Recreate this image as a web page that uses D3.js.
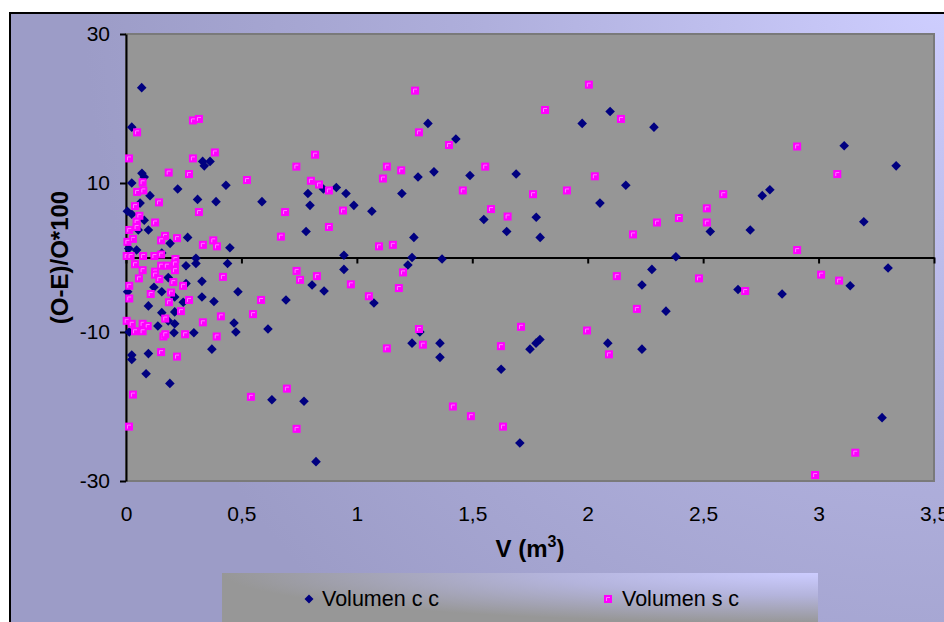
<!DOCTYPE html>
<html>
<head>
<meta charset="utf-8">
<script src="https://cdn.jsdelivr.net/npm/d3@7"></script>
<style>
  body { margin: 0; background: #ffffff; }
  svg { display: block; }
  text { font-family: Arial, "Liberation Sans", sans-serif; fill: #000; }
</style>
</head>
<body>
<svg id="chart" width="944" height="622"></svg>
<script>
// Series: relative error (O-E)/O*100 against stem volume V (m3)
const seriesNames = ["Volumen c c", "Volumen s c"];

const volumenCC = [
  [0.068, 22.8], [0.025, 17.5], [0.332, 12.9], [0.339, 12.3], [0.364, 12.9],
  [0.069, 11.3], [0.079, 10.8], [0.025, 10.0], [0.104, 8.3], [0.224, 9.2],
  [0.433, 9.7], [0.31, 7.8], [0.39, 7.5], [0.589, 7.5], [0.061, 7.3],
  [0.006, 6.2], [0.025, 5.8], [0.079, 5.0], [0.053, 3.7], [0.097, 3.7],
  [0.267, 2.7], [0.191, 1.9], [0.45, 1.3], [0.046, 1.0], [0.012, 1.2],
  [0.155, 0.6], [0.303, -0.1], [0.303, -0.8], [0.26, -1.1], [0.44, -0.8],
  [0.183, -2.7], [0.121, -4.0], [0.155, -4.6], [0.26, -3.5], [0.329, -3.2],
  [0.485, -4.6], [0.007, -4.6], [0.211, -5.3], [0.329, -5.3], [0.381, -5.9],
  [0.693, -5.7], [0.097, -6.5], [0.248, -6.0], [0.155, -7.4], [0.211, -7.3],
  [0.183, -8.5], [0.211, -8.9], [0.138, -9.2], [0.468, -8.8], [0.476, -10.0],
  [0.208, -10.1], [0.294, -10.1], [0.014, -10.0], [0.615, -9.6], [0.372, -12.3],
  [0.025, -13.1], [0.025, -13.7], [0.097, -12.9], [0.087, -15.6], [0.19, -16.9],
  [0.632, -19.1], [1.308, 18.0], [1.429, 15.9], [1.334, 11.5], [1.265, 10.8],
  [1.49, 11.0], [0.911, 9.4], [0.855, 9.2], [0.788, 8.6], [0.953, 8.6],
  [1.195, 8.6], [0.797, 7.0], [0.987, 7.0], [1.065, 6.2], [1.55, 5.1],
  [1.649, 3.5], [0.78, 3.5], [1.247, 2.7], [0.944, 0.3], [1.239, 0.0],
  [1.369, -0.2], [1.221, -1.0], [0.944, -1.6], [0.806, -3.7], [0.858, -4.5],
  [1.074, -6.1], [1.273, -10.0], [1.239, -11.5], [1.36, -11.5], [1.36, -13.4],
  [1.625, -15.0], [0.771, -19.3], [0.823, -27.4], [2.097, 19.6], [1.976, 18.0],
  [2.287, 17.5], [1.69, 11.2], [2.165, 9.7], [2.053, 7.3], [1.777, 5.4],
  [1.794, 2.7], [2.531, 3.5], [2.382, 0.1], [2.278, -1.6], [2.235, -3.7],
  [2.339, -7.2], [2.087, -11.5], [2.235, -12.3], [1.75, -12.3], [1.776, -11.5],
  [1.793, -11.0], [1.706, -24.9], [3.111, 15.0], [3.336, 12.3], [2.789, 9.1],
  [2.756, 8.3], [3.196, 4.8], [2.704, 3.7], [3.301, -1.4], [3.137, -3.8],
  [2.651, -4.3], [2.842, -4.9], [3.275, -21.5]
];

const volumenSC = [
  [0.29, 18.4], [0.316, 18.6], [0.048, 16.8], [0.013, 13.3], [0.29, 13.3],
  [0.385, 14.1], [0.738, 12.2], [0.185, 11.4], [0.273, 11.2], [0.072, 10.1],
  [0.524, 10.4], [0.048, 8.8], [0.075, 9.0], [0.143, 7.4], [0.039, 6.9],
  [0.316, 6.1], [0.689, 6.1], [0.058, 5.6], [0.046, 4.8], [0.046, 4.1],
  [0.126, 4.7], [0.014, 3.7], [0.671, 2.8], [0.169, 2.9], [0.152, 2.3],
  [0.221, 2.6], [0.03, 2.5], [0.006, 2.1], [0.378, 2.3], [0.394, 1.5],
  [0.333, 1.7], [0.003, 0.2], [0.02, 0.2], [0.074, 0.2], [0.123, 0.2],
  [0.152, 0.4], [0.214, -0.2], [0.039, -0.9], [0.152, -1.1], [0.177, -1.1],
  [0.212, -0.8], [0.072, -1.7], [0.126, -1.9], [0.126, -2.3], [0.212, -1.7],
  [0.056, -2.8], [0.144, -2.9], [0.014, -3.8], [0.205, -3.3], [0.247, -3.8],
  [0.42, -2.6], [0.739, -1.8], [0.754, -3.0], [0.107, -4.9], [0.195, -4.7],
  [0.014, -5.5], [0.186, -6.0], [0.273, -5.7], [0.585, -5.7], [0.238, -7.2],
  [0.17, -8.2], [0.55, -7.6], [0.411, -7.9], [0.333, -8.7], [0.003, -8.5],
  [0.025, -8.9], [0.072, -8.9], [0.094, -9.2], [0.039, -9.9], [0.072, -9.9],
  [0.162, -10.6], [0.17, -10.3], [0.256, -10.3], [0.393, -10.6], [0.152, -12.7],
  [0.221, -13.3], [0.03, -18.4], [0.541, -18.7], [0.697, -17.6], [0.013, -22.7],
  [0.739, -23.0], [1.252, 22.4], [1.269, 16.8], [1.399, 15.1], [0.819, 13.8],
  [1.13, 12.2], [1.556, 12.2], [1.192, 11.7], [1.113, 10.6], [0.801, 10.3],
  [0.836, 9.8], [0.879, 9.0], [1.459, 9.0], [0.94, 6.3], [1.581, 6.5],
  [1.653, 5.5], [0.879, 4.1], [1.096, 1.5], [1.156, 1.7], [0.827, -2.5],
  [0.974, -3.6], [1.2, -2.0], [1.182, -4.1], [1.052, -5.2], [1.269, -9.6],
  [1.286, -11.7], [1.13, -12.2], [1.624, -11.9], [1.416, -20.0], [1.494, -21.3],
  [1.633, -22.7], [2.005, 23.2], [1.815, 19.8], [2.144, 18.6], [2.031, 10.9],
  [1.763, 8.5], [1.91, 9.0], [2.516, 6.6], [2.516, 4.7], [2.395, 5.3],
  [2.3, 4.7], [2.196, 3.1], [2.587, 8.5], [2.126, -2.5], [2.482, -2.8],
  [2.213, -6.9], [1.711, -9.3], [1.997, -9.8], [2.092, -13.0], [2.907, 14.9],
  [3.081, 11.2], [2.907, 1.0], [3.011, -2.3], [3.089, -3.1], [2.682, -4.5],
  [3.159, -26.2], [2.985, -29.2]
];

const xTicks = [0, 0.5, 1, 1.5, 2, 2.5, 3, 3.5];
const yTicks = [-30, -10, 10, 30];
const xTitle = "V (m";
const xTitleSup = "3";
const yTitle = "(O-E)/O*100";

const colors = { cc: "#000080", sc: "#ff00ff" };

const svg = d3.select("#chart");
const W = 944, H = 622;
const plot = { left: 126, right: 934, top: 34, bottom: 481 };

const x = d3.scaleLinear().domain([0, 3.5]).range([plot.left, plot.right]);
const y = d3.scaleLinear().domain([-30, 30]).range([plot.bottom, plot.top]);

const defs = svg.append("defs");
const bg = defs.append("radialGradient").attr("id", "bgGrad")
  .attr("gradientUnits", "userSpaceOnUse")
  .attr("cx", 944).attr("cy", 0).attr("r", 860);
bg.append("stop").attr("offset", 0).attr("stop-color", "#ceceff");
bg.append("stop").attr("offset", 0.55).attr("stop-color", "#aeaedb");
bg.append("stop").attr("offset", 1).attr("stop-color", "#9c9cc7");

const lg = defs.append("radialGradient").attr("id", "legGrad")
  .attr("cx", 1).attr("cy", 0).attr("r", 1);
lg.append("stop").attr("offset", 0).attr("stop-color", "#ccccff");
lg.append("stop").attr("offset", 0.45).attr("stop-color", "#b4b4dc");
lg.append("stop").attr("offset", 1).attr("stop-color", "#979797");

// chart area background with its frame
svg.append("rect").attr("x", 0).attr("y", 0).attr("width", W).attr("height", H).attr("fill", "#ffffff");
svg.append("rect").attr("x", 10).attr("y", 13).attr("width", W + 10).attr("height", H + 10)
  .attr("fill", "url(#bgGrad)").attr("stroke", "#000").attr("stroke-width", 2);

// plot area
svg.append("rect")
  .attr("x", plot.left).attr("y", plot.top)
  .attr("width", plot.right - plot.left).attr("height", plot.bottom - plot.top)
  .attr("fill", "#969696").attr("stroke", "#7a7a7a").attr("stroke-width", 2);

// y axis
const yAxis = svg.append("g")
  .attr("transform", `translate(${plot.left},0)`)
  .call(d3.axisLeft(y).tickValues(yTicks).tickSize(6).tickSizeOuter(0)
    .tickPadding(10).tickFormat(d => String(d)));
yAxis.select(".domain").attr("stroke", "#000").attr("stroke-width", 2);
yAxis.selectAll(".tick line").attr("stroke", "#000").attr("stroke-width", 2);
yAxis.selectAll(".tick text").attr("font-size", 21).attr("font-family", "Arial, 'Liberation Sans', sans-serif");

// x axis line crossing at zero, with ticks
const xAxis = svg.append("g")
  .attr("transform", `translate(0,${y(0)})`)
  .call(d3.axisBottom(x).tickValues(xTicks).tickSize(6).tickSizeOuter(0).tickFormat(""));
xAxis.select(".domain").attr("stroke", "#000").attr("stroke-width", 2);
xAxis.selectAll(".tick line").attr("stroke", "#000").attr("stroke-width", 2);

// x tick labels below the plot
const xLabels = svg.append("g")
  .attr("transform", `translate(0,${plot.bottom + 22})`)
  .call(d3.axisBottom(x).tickValues(xTicks).tickSize(0).tickSizeOuter(0)
    .tickFormat(d => String(d).replace(".", ",")));
xLabels.select(".domain").remove();
xLabels.selectAll(".tick text").attr("font-size", 21).attr("font-family", "Arial, 'Liberation Sans', sans-serif");

// axis titles
const xt = svg.append("text")
  .attr("x", 530).attr("y", 557)
  .attr("text-anchor", "middle")
  .attr("font-size", 24).attr("font-weight", "bold");
xt.append("tspan").text(xTitle);
xt.append("tspan").attr("dy", -10).attr("font-size", 16).text(xTitleSup);
xt.append("tspan").attr("dy", 10).text(")");

svg.append("text")
  .attr("transform", `translate(68,${(plot.top + plot.bottom) / 2}) rotate(-90)`)
  .attr("text-anchor", "middle")
  .attr("font-size", 24).attr("font-weight", "bold")
  .text(yTitle);

// marker shapes
const diamond = "M0,-4.8L4.8,0L0,4.8L-4.8,0Z";
function drawSquare(sel) {
  sel.append("rect").attr("x", -4).attr("y", -4).attr("width", 8).attr("height", 8)
    .attr("fill", colors.sc);
  sel.append("path").attr("d", "M-1.5,2V-1.5H2")
    .attr("fill", "none").attr("stroke", "#ff7aff").attr("stroke-width", 1);
}

// series points
const pts = svg.append("g");
pts.selectAll(".cc").data(volumenCC).join("path")
  .attr("class", "cc")
  .attr("d", diamond)
  .attr("transform", d => `translate(${x(d[0])},${y(d[1])})`)
  .attr("fill", colors.cc);

pts.selectAll(".sc").data(volumenSC).join("g")
  .attr("class", "sc")
  .attr("transform", d => `translate(${x(d[0])},${y(d[1])})`)
  .each(function () { drawSquare(d3.select(this)); });

// legend
const legend = svg.append("g");
legend.append("rect").attr("x", 222).attr("y", 573).attr("width", 596).attr("height", 50)
  .attr("fill", "url(#legGrad)");
const items = [
  { name: seriesNames[0], mx: 309, tx: 322, kind: "cc" },
  { name: seriesNames[1], mx: 608, tx: 622, kind: "sc" }
];
items.forEach(it => {
  const g = legend.append("g").attr("transform", `translate(${it.mx},599)`);
  if (it.kind === "cc") {
    g.append("path").attr("d", "M0,-4.5L4.5,0L0,4.5L-4.5,0Z").attr("fill", colors.cc);
  } else {
    drawSquare(g);
  }
  legend.append("text").attr("x", it.tx).attr("y", 606)
    .attr("font-size", 21.5).text(it.name);
});
</script>
</body>
</html>
